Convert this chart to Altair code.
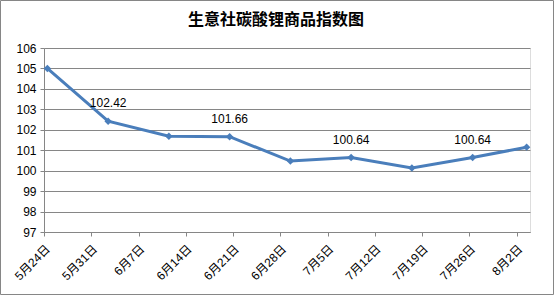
import json
import altair as alt
import pandas as pd

# ---- data ----
tick_labels = ["5月24日", "5月31日", "6月7日", "6月14日", "6月21日", "6月28日",
               "7月5日", "7月12日", "7月19日", "7月26日", "8月2日"]
axis_start, axis_end = "2024-05-24", "2024-08-04"
point_dates = ["2024-05-24", "2024-06-02", "2024-06-11", "2024-06-20", "2024-06-29",
               "2024-07-08", "2024-07-17", "2024-07-26", "2024-08-03"]
index_values = [105.00, 102.42, 101.68, 101.66, 100.47, 100.64, 100.13, 100.64, 101.15]
show_label = [False, True, False, True, False, True, False, True, False]
title_text = "生意社碳酸锂商品指数图"

start = pd.Timestamp(axis_start)
span_days = (pd.Timestamp(axis_end) - start).days
pts_df = pd.DataFrame({"date": point_dates, "value": index_values})
# date-axis: each day is one unit, the point sits in the middle of its day
pts_df["day"] = [(pd.Timestamp(d) - start).days + 0.5 for d in point_dates]
pts_df["txt"] = [f"{v:.2f}" if s else "" for v, s in zip(index_values, show_label)]

FONT = "Liberation Sans, Noto Sans CJK SC"
BLUE = "#4a7ebb"
GRID = "#868686"

W, H = 486, 184
PL, PT = 44, 48

label_expr = json.dumps(tick_labels, ensure_ascii=False) + "[round(datum.value / 7)]"

x_enc = alt.X("day:Q",
              scale=alt.Scale(domain=[0, span_days], nice=False, zero=False),
              axis=alt.Axis(values=[7 * i for i in range(len(tick_labels))],
                            labelExpr=label_expr, title=None, grid=False,
                            labelAngle=-45, labelAlign="right", labelBaseline="top",
                            domainColor=GRID, tickColor=GRID, tickSize=4,
                            labelPadding=7, labelFontSize=12, labelColor="#000000",
                            labelFont=FONT, labelOverlap=False))

y_enc = alt.Y("value:Q",
              scale=alt.Scale(domain=[97, 106], nice=False, zero=False),
              axis=alt.Axis(values=list(range(97, 107)), title=None, grid=True,
                            gridColor=GRID, gridWidth=1, domainColor=GRID,
                            tickColor=GRID, tickSize=4, labelPadding=4,
                            labelFontSize=12, labelColor="#000000", labelFont=FONT))

base = alt.Chart(pts_df).encode(x=x_enc, y=y_enc)

line = base.mark_line(color=BLUE, strokeWidth=3)
marks = base.mark_point(shape="diamond", filled=True, color=BLUE, size=55, opacity=1)
labels = base.mark_text(
    dy=-18, fontSize=12, font=FONT, color="#000000"
).encode(text="txt:N")

one = pd.DataFrame({"t": [title_text]})
title = alt.Chart(one).mark_text(
    fontSize=16, fontWeight="bold", font="Noto Sans CJK SC", color="#000000",
    align="center", baseline="middle"
).encode(x=alt.value(276 - PL), y=alt.value(20 - PT), text="t:N")

frame = alt.Chart(one).mark_rect(
    fill=None, stroke=GRID, strokeWidth=1
).encode(
    x=alt.value(-PL + 0.5), x2=alt.value(555 - PL - 1.5),
    y=alt.value(-PT + 0.5), y2=alt.value(296 - PT - 1.5),
)

chart = alt.layer(line, marks, labels, title, frame).properties(
    width=W, height=H,
    autosize=alt.AutoSizeParams(type="none"),
    padding={"left": PL, "top": PT, "right": 555 - PL - W, "bottom": 296 - PT - H},
).configure_view(stroke=None).configure(background="white")

chart.save("out.html", embed_options={"renderer": "svg", "actions": False})
